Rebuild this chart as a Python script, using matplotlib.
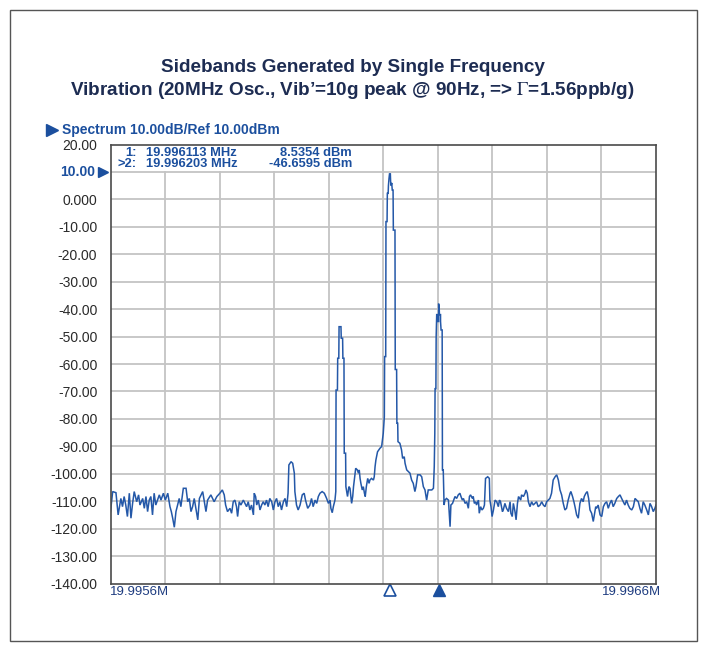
import numpy as np
import matplotlib
matplotlib.use("Agg")
import matplotlib.pyplot as plt
from matplotlib.patches import Rectangle
import matplotlib.transforms as mtransforms

# ---------------- data (frequency offset in Hz from 19.9956 MHz, level in dBm) -------------
start_label = "19.9956M"
stop_label = "19.9966M"
span_hz = 1000

noise_a_hz = [0, 4, 10, 14, 19, 22, 25, 28, 31, 34.5,
              37.5, 40.5, 43.5, 48, 51.5, 54, 59, 62, 65, 68,
              71, 74, 77, 80, 83, 89.5, 92.5, 97, 100.5, 105,
              109, 111.5, 114, 117, 120, 126, 129, 133.5, 138.5, 141.5,
              144.5, 147.5, 150.5, 153.5, 160, 163, 169, 175, 178, 184,
              190, 195]
noise_a_dbm = [-113.8, -106.5, -106.9, -115.0, -109.0, -112.0, -108.3, -111.4, -115.6, -107.1,
               -116.2, -110.8, -106.5, -110.2, -107.7, -111.4, -109.0, -112.6, -108.3, -113.8,
               -109.6, -108.3, -115.0, -107.1, -111.4, -107.7, -109.6, -107.1, -109.6, -107.1,
               -112.0, -113.8, -116.2, -119.5, -113.8, -109.0, -112.0, -105.3, -105.3, -110.2,
               -109.0, -113.8, -112.0, -109.0, -116.8, -109.0, -106.5, -113.8, -109.6, -107.7,
               -110.2, -108.3]

noise_b_hz = [200.5, 205, 208.5, 211, 214.5, 219, 222, 225, 228, 231,
              233, 236, 239, 243.5, 246.5, 249.5, 252.5, 255.5, 258.5, 262,
              263.5, 266, 268, 271, 274, 277, 280, 283, 286, 289,
              292, 295.5, 298.5, 301.5, 304.5, 307.5, 310.5, 313.5, 317, 320,
              323, 325.5, 327, 331, 334, 337, 338, 341, 344, 347.5,
              351.5, 355, 357.5, 361.5, 365.5, 368.5, 371.5, 375, 378, 381,
              384, 388, 392, 396, 399.5, 402.5, 404, 406.5, 408.5, 411.5,
              413]
noise_b_dbm = [-107.1, -105.9, -107.7, -111.4, -113.8, -112.6, -114.4, -110.2, -109.6, -112.0,
               -115.6, -110.2, -111.4, -109.6, -110.8, -112.0, -110.2, -113.2, -111.4, -115.0,
               -107.1, -108.3, -111.4, -109.6, -113.2, -111.4, -110.2, -111.4, -109.6, -112.0,
               -109.0, -110.2, -113.2, -110.2, -109.0, -112.0, -110.2, -113.2, -110.2, -109.0,
               -112.0, -107.1, -96.8, -95.6, -96.2, -99.8, -106.5, -111.4, -113.2, -111.4,
               -107.7, -107.1, -109.6, -112.6, -111.4, -109.0, -112.0, -109.6, -110.8, -108.3,
               -107.1, -106.5, -107.1, -108.9, -110.8, -109.6, -112.6, -114.2, -112.0, -109.6,
               -106.5]

lower_sb_hz = [413.5, 416, 416.5, 418.5, 419, 422.5, 423, 425.5, 426, 428, 428.5, 431]
lower_sb_dbm = [-69.5, -69.5, -57.9, -57.9, -46.4, -46.4, -50.6, -50.6, -57.9, -57.9, -92.5, -92.5]

skirt_l_hz = [431.5, 434.5, 437, 439, 441, 442, 444, 445.5, 448, 449.5,
              452.5, 454.5, 456, 457.5, 459, 461.5, 463.5, 465.5, 467, 469,
              471.5, 474, 475.5, 478.5, 482, 483.5, 485, 486.5, 489.5, 492,
              494, 497, 500, 502]
skirt_l_dbm = [-104.7, -108.3, -104.7, -105.3, -108.9, -110.8, -108.3, -104.7, -100.4, -98.0,
               -98.6, -99.8, -98.6, -101.7, -103.5, -105.9, -104.7, -107.1, -108.3, -104.7,
               -101.7, -103.5, -102.3, -101.7, -102.3, -101.1, -97.4, -95.0, -92.0, -91.3,
               -90.7, -90.1, -85.3, -79.2]

carrier_hz = [502.5, 504.5, 505, 507, 507.5, 509, 509.5, 510.5, 511.5, 513,
              513.5, 514.5, 515.5, 516.5, 518, 518.5, 521.5, 522, 524.5, 525,
              526.5]
carrier_dbm = [-57.3, -57.3, -8.1, -8.1, 2.2, 2.2, 5.0, 7.5, 9.3, 9.3,
               6.5, 5.0, 6.0, 3.4, 3.4, -11.2, -11.2, -62.0, -62.0, -81.6,
               -81.6]

skirt_r_hz = [527, 530.5, 533.5, 535.5, 538.5, 540, 543, 546, 549, 552,
              555, 558, 560, 563, 567.5, 570.5, 573.5, 576.5, 579.5, 582.5,
              585.5, 589, 592, 593.5]
skirt_r_dbm = [-88.3, -88.9, -91.3, -94.4, -93.8, -96.2, -98.6, -99.2, -99.8, -102.3,
               -103.5, -106.5, -104.7, -100.4, -100.4, -101.1, -104.7, -105.9, -109.6, -105.9,
               -105.9, -105.9, -105.3, -97.4]

upper_sb_hz = [594.5, 595, 596.5, 597, 598, 600, 600, 601.5, 601.5, 602.5,
               603, 605, 605, 606, 608, 608.5, 610]
upper_sb_dbm = [-85.3, -69.0, -69.0, -50.0, -42.0, -42.0, -44.5, -44.5, -38.0, -39.5,
                -42.0, -42.0, -44.5, -47.6, -47.6, -98.6, -98.6]

noise_c_hz = [611.5, 613, 616, 619.5, 622.5, 624, 627, 631.5, 634.5, 637.5,
              640.5, 642.5, 645, 647, 650, 653, 656, 658, 660, 663.5,
              665, 667, 669.5, 671, 674.5, 676, 678.5, 681, 683.5, 685.5,
              687.5, 691.5, 694.5, 695.5, 697.5, 699.5, 702, 705, 708, 711,
              713, 715, 718.5, 720, 723, 726, 729.5, 732.5, 734, 736.5,
              738.5, 741.5, 743.5, 746, 748, 752, 753.5, 757, 760, 761.5,
              764, 766, 769, 772, 775, 778, 781, 784, 787.5, 790.5,
              793.5, 796.5, 799.5, 802.5, 805.5]
noise_c_dbm = [-111.4, -109.6, -109.0, -109.6, -119.3, -111.4, -110.8, -108.3, -109.0, -107.7,
               -107.1, -108.3, -109.6, -109.0, -110.8, -110.2, -112.6, -108.3, -107.7, -109.0,
               -108.3, -110.8, -110.2, -111.4, -109.6, -114.4, -112.0, -113.2, -112.6, -111.4,
               -101.7, -101.1, -101.7, -109.6, -112.0, -115.6, -113.2, -109.6, -110.2, -112.0,
               -109.6, -110.2, -113.8, -113.2, -110.8, -112.6, -113.8, -110.2, -114.4, -115.6,
               -110.8, -113.8, -116.8, -110.8, -108.3, -109.6, -107.7, -108.3, -107.1, -105.9,
               -107.1, -110.2, -112.0, -110.2, -111.4, -110.8, -110.2, -112.0, -111.4, -110.2,
               -111.4, -112.0, -110.2, -109.6, -109.0]

noise_d_hz = [808.5, 811.5, 815, 818, 821, 824, 827, 830, 833, 836,
              839, 842.5, 844, 847, 849.5, 851.5, 854.5, 857.5, 860.5, 863.5,
              866.5, 868.5, 871.5, 874, 876.5, 879, 882, 885, 887, 889.5,
              891, 894, 897.5, 900.5, 903.5, 906.5, 909.5, 912.5, 915.5, 918.5,
              921.5, 924.5, 928, 931, 934, 937, 940, 943, 946, 949,
              952, 955.5, 958.5, 961.5, 964.5, 967.5, 970.5, 973.5, 976.5, 979.5,
              983, 986, 989, 992, 995, 998, 1000]
noise_d_dbm = [-107.1, -102.3, -101.1, -100.4, -102.3, -105.9, -107.7, -110.8, -113.2, -112.6,
               -109.6, -107.1, -106.5, -108.3, -110.2, -112.0, -115.0, -116.2, -110.8, -109.0,
               -110.2, -108.3, -107.1, -106.5, -109.0, -113.2, -114.4, -117.4, -115.0, -112.0,
               -112.6, -111.4, -115.0, -115.6, -112.0, -110.8, -110.2, -112.6, -110.8, -109.6,
               -112.0, -110.8, -109.0, -108.3, -107.7, -109.0, -110.2, -111.4, -109.6, -111.4,
               -112.6, -113.2, -112.0, -109.0, -109.6, -110.2, -112.6, -114.4, -110.2, -111.4,
               -113.2, -115.0, -110.8, -112.0, -113.8, -112.6, -111.4]

ytick_values = [20, 10, 0, -10, -20, -30, -40, -50, -60, -70, -80, -90, -100, -110, -120, -130, -140]
ytick_labels = ["20.00", "", "0.000", "-10.00", "-20.00", "-30.00", "-40.00", "-50.00", "-60.00",
                "-70.00", "-80.00", "-90.00", "-100.00", "-110.00", "-120.00", "-130.00", "-140.00"]
ref_level_label = "10.00"
ref_level = 10

marker1_hz = 513
marker2_hz = 603
marker_lines = [("1:", "19.996113 MHz", "8.5354 dBm"),
                (">2:", "19.996203 MHz", "-46.6595 dBm")]

title_lines = ["Sidebands Generated by Single Frequency",
               "Vibration (20MHz Osc., Vib\u2019=10g peak @ 90Hz, => $\\Gamma$=1.56ppb/g)"]
header_text = "Spectrum 10.00dB/Ref 10.00dBm"

# ---------------- assemble trace ----------------
segs_hz = [noise_a_hz, noise_b_hz, lower_sb_hz, skirt_l_hz, carrier_hz,
           skirt_r_hz, upper_sb_hz, noise_c_hz, noise_d_hz]
segs_db = [noise_a_dbm, noise_b_dbm, lower_sb_dbm, skirt_l_dbm, carrier_dbm,
           skirt_r_dbm, upper_sb_dbm, noise_c_dbm, noise_d_dbm]
for a, b in zip(segs_hz, segs_db):
    assert len(a) == len(b), (len(a), len(b))
trace_hz = np.concatenate([np.asarray(s, float) for s in segs_hz])
trace_db = np.concatenate([np.asarray(s, float) for s in segs_db])

# ---------------- style ----------------
W, H = 707, 650
TRACE = "#2458a8"
BLUE = "#1b4f9e"
NAVY = "#1d2c52"
GRID = "#c4c4c4"
FONT = ["Liberation Sans", "DejaVu Sans"]
plt.rcParams["font.family"] = FONT
plt.rcParams["mathtext.fontset"] = "stix"

fig = plt.figure(figsize=(W / 100, H / 100), dpi=100)


def fx(x):
    return x / W


def fy(y):
    return 1 - y / H


# outer frame
fig.patches.append(Rectangle((fx(10), fy(641)), fx(687), (631) / H, transform=fig.transFigure,
                             fill=False, edgecolor="#555555", linewidth=1.0))

L, R, T, B = 110.5, 656, 144.5, 583.5
ax = fig.add_axes([fx(L), fy(B), (R - L) / W, (B - T) / H])
ax.set_xlim(0, span_hz)
ax.set_ylim(-140, 20)

for v in range(100, span_hz, 100):
    ax.axvline(v, color=GRID, lw=1.3, zorder=1)
for v in ytick_values[1:-1]:
    ax.axhline(v, color=GRID, lw=1.3, zorder=1)

# white box behind marker readout
ax.add_patch(Rectangle((0, ref_level + 0.4), 450, 20 - ref_level - 0.4, facecolor="white",
                       edgecolor="none", zorder=2))

ax.plot(trace_hz, trace_db, color=TRACE, lw=1.1, zorder=3, solid_joinstyle="miter")

ax.set_xticks([])
ax.set_yticks(ytick_values)
ax.set_yticklabels(ytick_labels)
ax.tick_params(axis="y", length=0, pad=9.5, labelsize=10, labelcolor="#2a2a2a")
for s in ax.spines.values():
    s.set_color("#4a4a4a")
    s.set_linewidth(1.2)
    s.set_zorder(4)

# reference level label and arrow
ytr = mtransforms.blended_transform_factory(ax.transAxes, ax.transData)
ax.text(-(L - 95) / (R - L), ref_level, ref_level_label, transform=ytr,
        ha="right", va="center", fontsize=10, fontweight="bold", color=BLUE)
ax.plot([-(L - 102.5) / (R - L)], [ref_level], marker=">", markersize=7.5, color=BLUE,
        clip_on=False, transform=ytr)

# marker readout
for i, (a, b, c) in enumerate(marker_lines):
    yy = 153 + 11 * i
    fig.text(fx(137), fy(yy), a, ha="right", va="center", fontsize=9.3, fontweight="bold", color=BLUE)
    fig.text(fx(146), fy(yy), b, ha="left", va="center", fontsize=9.3, fontweight="bold", color=BLUE)
    fig.text(fx(352), fy(yy), c, ha="right", va="center", fontsize=9.3, fontweight="bold", color=BLUE)

# x labels
fig.text(fx(110), fy(592), start_label, ha="left", va="center", fontsize=9.5, color="#1e3c80")
fig.text(fx(661), fy(592), stop_label, ha="right", va="center", fontsize=9.5, color="#1e3c80")

# marker triangles below axis
btr = mtransforms.blended_transform_factory(ax.transData, ax.transAxes)
ax.plot([marker1_hz], [-0.0155], marker="^", markersize=9, markerfacecolor="white",
        markeredgecolor=BLUE, markeredgewidth=1.2, transform=btr, clip_on=False)
ax.plot([marker2_hz], [-0.0155], marker="^", markersize=9, color=BLUE, transform=btr, clip_on=False)

# header
fig.lines.append(plt.Line2D([fx(51.5)], [fy(130)], marker=">", markersize=9, color=BLUE,
                            transform=fig.transFigure))
fig.text(fx(62), fy(130), header_text, ha="left", va="center", fontsize=10,
         fontweight="bold", color=BLUE)

# title (same size for both lines, fitted to first line width)
t1 = fig.text(fx(352.5), fy(68), title_lines[0], ha="center", va="center", fontsize=14,
              fontweight="bold", color=NAVY)
t2 = fig.text(fx(352.5), fy(90.5), title_lines[1], ha="center", va="center", fontsize=14,
              fontweight="bold", color=NAVY)
fig.canvas.draw()
rend = fig.canvas.get_renderer()
w = t1.get_window_extent(rend).width
size = 14 * 385 / w
t1.set_fontsize(size)
t2.set_fontsize(size)

fig.savefig("out.png", dpi=100)
